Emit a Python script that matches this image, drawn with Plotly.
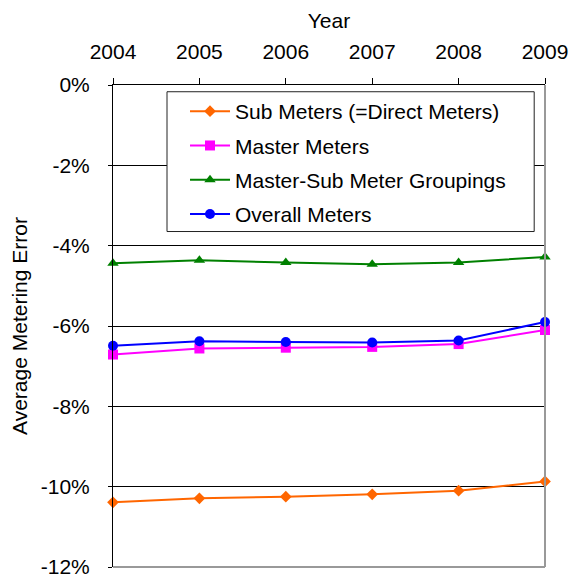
import plotly.graph_objects as go

years = ["2004", "2005", "2006", "2007", "2008", "2009"]

sub_meters = [-10.39, -10.29, -10.25, -10.19, -10.10, -9.87]
master_meters = [-6.71, -6.56, -6.54, -6.52, -6.45, -6.10]
master_sub_groupings = [-4.44, -4.36, -4.42, -4.46, -4.42, -4.28]
overall_meters = [-6.49, -6.38, -6.40, -6.41, -6.36, -5.90]

y_ticks = [0, -2, -4, -6, -8, -10, -12]
y_labels = ["0%", "-2%", "-4%", "-6%", "-8%", "-10%", "-12%"]

font = "Liberation Sans, Arial, sans-serif"
fsize = 21

series = [
    ("Sub Meters (=Direct Meters)", sub_meters, "#FF6600", "diamond", 9),
    ("Master Meters", master_meters, "#FF00FF", "square", 10),
    ("Master-Sub Meter Groupings", master_sub_groupings, "#008000", "triangle-up", 10),
    ("Overall Meters", overall_meters, "#0000FF", "circle", 10),
]

fig = go.Figure()
for name, vals, color, symbol, size in series:
    fig.add_trace(go.Scatter(x=years, y=vals, name=name, mode="lines+markers",
                             line=dict(color=color, width=2),
                             marker=dict(color=color, symbol=symbol, size=size),
                             legendgroup=name, cliponaxis=False))

fig.update_xaxes(type="category", side="top", range=[0, 5], automargin=False,
                 title=dict(text="Year", standoff=5, font=dict(size=fsize)),
                 showline=True, linecolor="black", linewidth=1,
                 ticks="outside", ticklen=6, tickcolor="black",
                 ticklabelstandoff=11, showgrid=False, zeroline=False,
                 tickfont=dict(size=fsize))

fig.update_yaxes(range=[-12, 0], tickvals=y_ticks, ticktext=y_labels, automargin=False,
                 title=dict(text="Average Metering Error", standoff=7, font=dict(size=fsize)),
                 showline=True, linecolor="black", linewidth=1,
                 ticks="outside", ticklen=4, tickcolor="black",
                 ticklabelstandoff=14, ticklabeloverflow="allow",
                 showgrid=True, gridcolor="black", gridwidth=1, zeroline=False,
                 tickfont=dict(size=fsize))

# gray right and bottom edges of the plot area
fig.add_shape(type="line", xref="paper", yref="paper", x0=1, x1=1, y0=0, y1=1,
              line=dict(color="#999999", width=2))
fig.add_shape(type="line", xref="paper", yref="paper", x0=0, x1=1, y0=0, y1=0,
              line=dict(color="#999999", width=2))
# legend frame
fig.add_shape(type="rect", xref="paper", yref="paper", x0=0.125, x1=0.975, y0=0.696, y1=0.986,
              line=dict(color="#222222", width=1), fillcolor="white", layer="above")

fig.update_layout(
    width=570, height=567,
    margin=dict(l=105, r=33, t=77, b=8),
    paper_bgcolor="white", plot_bgcolor="white",
    font=dict(family=font, size=fsize, color="black"),
    legend=dict(x=0.1667, y=0.9875, xanchor="left", yanchor="top",
                bgcolor="rgba(0,0,0,0)", borderwidth=0,
                tracegroupgap=4, itemwidth=40, font=dict(size=fsize)),
)

fig.write_html("out.html")
